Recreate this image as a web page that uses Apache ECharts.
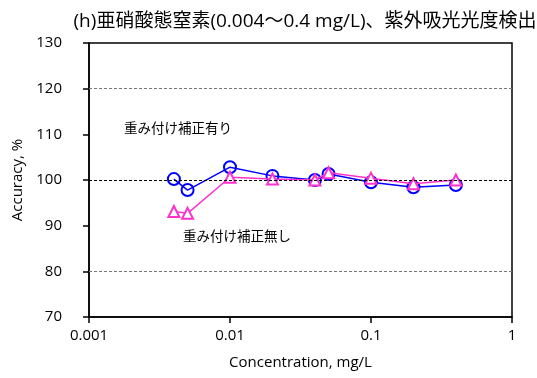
<!DOCTYPE html>
<html><head><meta charset="utf-8">
<script src="https://cdn.jsdelivr.net/npm/echarts@6/dist/echarts.min.js"></script>
<style>html,body{margin:0;padding:0;background:#fff}#c{width:537px;height:378px}</style>
</head><body><div id="c"></div>
<script>
const concentrations = [0.004, 0.005, 0.01, 0.02, 0.04, 0.05, 0.1, 0.2, 0.4];
const weighted = [100.2, 97.8, 102.8, 100.9, 100.0, 101.3, 99.5, 98.4, 98.9];
const unweighted = [93.1, 92.7, 100.6, 100.2, 100.0, 101.6, 100.4, 99.2, 100.0];
const xTicks = [0.001, 0.01, 0.1, 1];
const yTicks = [70, 80, 90, 100, 110, 120, 130];
const refLinesGray = [80, 120];
const refLinesBlack = [100];
const titleText = '(h)亜硝酸態窒素(0.004～0.4 mg/L)、紫外吸光光度検出';
const labelWeighted = '重み付け補正有り';
const labelUnweighted = '重み付け補正無し';

const font = '"Open Sans", "Noto Sans CJK JP", sans-serif';
const chart = echarts.init(document.getElementById('c'));
const pairs = arr => concentrations.map((x, i) => [x, arr[i]]);

chart.setOption({
  animation: false,
  title: {
    text: titleText, left: 300, top: 7, textAlign: 'center',
    textStyle: {fontFamily: font, fontSize: 19, fontWeight: 'normal', color: '#000'}
  },
  grid: {left: 89, right: 25, top: 43, bottom: 61, show: true, borderColor: '#000', borderWidth: 1.5, backgroundColor: 'transparent'},
  xAxis: {
    type: 'log', logBase: 10, min: xTicks[0], max: xTicks[xTicks.length - 1],
    name: 'Concentration, mg/L', nameLocation: 'middle', nameGap: 38,
    nameTextStyle: {fontFamily: font, fontSize: 15, color: '#000'},
    axisLine: {lineStyle: {color: '#000', width: 1.5}},
    axisTick: {show: true, length: 6, lineStyle: {color: '#000', width: 1.5}},
    minorTick: {show: false},
    splitLine: {show: false},
    axisLabel: {fontFamily: font, fontSize: 15, color: '#000', margin: 11,
      formatter: v => String(v)}
  },
  yAxis: {
    type: 'value', min: yTicks[0], max: yTicks[yTicks.length - 1], interval: 10,
    name: 'Accuracy, %', nameLocation: 'middle', nameGap: 57,
    nameTextStyle: {fontFamily: font, fontSize: 15, color: '#000'},
    axisLine: {show: true, lineStyle: {color: '#000', width: 1.5}},
    axisTick: {show: true, length: 6, lineStyle: {color: '#000', width: 1.5}},
    splitLine: {show: false},
    axisLabel: {fontFamily: font, fontSize: 15, color: '#000', margin: 27}
  },
  series: [
    {
      type: 'line', data: pairs(unweighted), z: 3,
      symbol: 'triangle', symbolSize: 11,
      lineStyle: {color: '#FF33CC', width: 1.5},
      itemStyle: {color: '#fff', borderColor: '#FF33CC', borderWidth: 2},
      markLine: {
        silent: true, symbol: 'none', label: {show: false},
        data: refLinesGray.map(v => ({yAxis: v, lineStyle: {color: '#777', type: [3, 2], width: 1}}))
          .concat(refLinesBlack.map(v => ({yAxis: v, lineStyle: {color: '#000', type: [3, 2], width: 1}})))
      }
    },
    {
      type: 'line', data: pairs(weighted), z: 2,
      symbol: 'circle', symbolSize: 12,
      lineStyle: {color: '#0000FF', width: 1.5},
      itemStyle: {color: 'rgba(255,255,255,0)', borderColor: '#0000FF', borderWidth: 2}
    }
  ],
  graphic: [
    {type: 'text', left: 124, top: 122, style: {text: labelWeighted, font: '13.5px ' + font, fill: '#000'}},
    {type: 'text', left: 183, top: 230, style: {text: labelUnweighted, font: '13.5px ' + font, fill: '#000'}}
  ]
});
</script></body></html>
